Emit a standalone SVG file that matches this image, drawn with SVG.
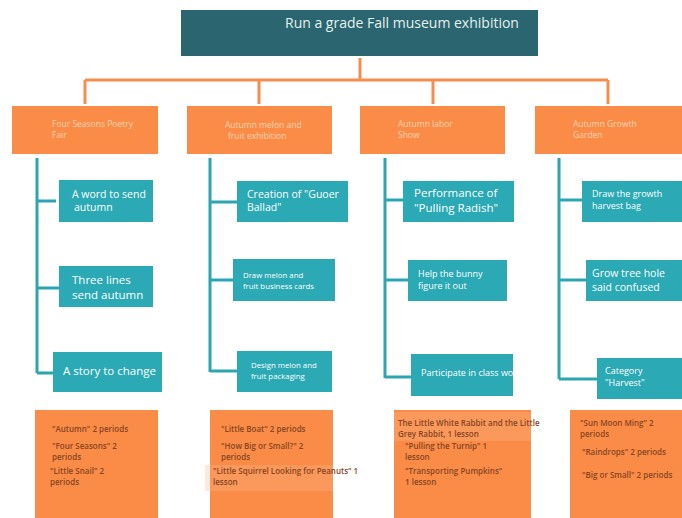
<svg xmlns="http://www.w3.org/2000/svg" width="682" height="518" viewBox="0 0 682 518">
<style>
text{font-family:"Open Sans","Noto Sans","Liberation Sans",sans-serif}
.title{fill:#2b6670}
.tt{fill:#e3f1f1;font-size:14px}
.hd{fill:#fa8c47}
.ht{fill:#fcd3b3;font-size:8.5px}
.tl{fill:#2ba9b4}
.wt{fill:#ffffff}
.ob{fill:#fa8c47}
.bt{fill:#874524;font-size:8px;font-weight:600}
.oc{stroke:#f58d4e;stroke-width:3;fill:none}
.tc{stroke:#2ba5b1;stroke-width:3;fill:none}
</style>
<rect width="682" height="518" fill="#ffffff"/>
<g id="connectors">
<path class="oc" d="M360 58V80M85 80H608M85 80V104M259 80V104M433 80V104M608 80V104"/>
<path class="tc" d="M37 158V373M37 201H56M37 288H60M37 373H54"/>
<path class="tc" d="M210 158V372M210 202H238M210 280H234M210 371H238"/>
<path class="tc" d="M385 158V378M385 200H404M385 280H409M385 377H412"/>
<path class="tc" d="M559 158V379M559 200H583M559 280H587M559 379H598"/>
</g>
<g id="root">
<rect class="title" x="181" y="10" width="357" height="46"/>
<text class="tt" x="285" y="28">Run a grade Fall museum exhibition</text>
</g>
<g id="h1"><rect class="hd" x="12" y="106" width="146" height="48"/><text class="ht" x="52" y="127">Four Seasons Poetry</text><text class="ht" x="52" y="138">Fair</text></g>
<g id="h2"><rect class="hd" x="187" y="106" width="145" height="48"/><text class="ht" x="225" y="128">Autumn melon and</text><text class="ht" x="228" y="139">fruit exhibition</text></g>
<g id="h3"><rect class="hd" x="360" y="106" width="145" height="48"/><text class="ht" x="398" y="127">Autumn labor</text><text class="ht" x="398" y="138">Show</text></g>
<g id="h4"><rect class="hd" x="535" y="106" width="147" height="48"/><text class="ht" x="573" y="127">Autumn Growth</text><text class="ht" x="573" y="138">Garden</text></g>

<g id="c1a"><rect class="tl" x="59" y="180" width="94" height="42"/><text class="wt" x="72" y="198" font-size="10.5">A word to send</text><text class="wt" x="74" y="211" font-size="10.5">autumn</text></g>
<g id="c1b"><rect class="tl" x="59" y="266" width="94" height="41"/><text class="wt" x="72" y="284" font-size="11.5">Three lines</text><text class="wt" x="72" y="299" font-size="11.5">send autumn</text></g>
<g id="c1c"><rect class="tl" x="53" y="352" width="109" height="40"/><text class="wt" x="63" y="375" font-size="11.5">A story to change</text></g>

<g id="c2a"><rect class="tl" x="237" y="181" width="111" height="41"/><text class="wt" x="247" y="198" font-size="10.5">Creation of "Guoer</text><text class="wt" x="247" y="211" font-size="10.5">Ballad"</text></g>
<g id="c2b"><rect class="tl" x="233" y="259" width="102" height="42"/><text class="wt" x="243" y="278" font-size="7.8">Draw melon and</text><text class="wt" x="243" y="289" font-size="7.8">fruit business cards</text></g>
<g id="c2c"><rect class="tl" x="237" y="351" width="95" height="41"/><text class="wt" x="251" y="368" font-size="7.8">Design melon and</text><text class="wt" x="251" y="379" font-size="7.8">fruit packaging</text></g>

<g id="c3a"><rect class="tl" x="403" y="181" width="111" height="41"/><text class="wt" x="414" y="197" font-size="11.5">Performance of</text><text class="wt" x="414" y="212" font-size="11.5">"Pulling Radish"</text></g>
<g id="c3b"><rect class="tl" x="408" y="260" width="99" height="41"/><text class="wt" x="418" y="277" font-size="9">Help the bunny</text><text class="wt" x="418" y="289" font-size="9">figure it out</text></g>
<g id="c3c"><rect class="tl" x="411" y="354" width="102" height="42"/><text class="wt" x="421" y="376" font-size="9">Participate in class work</text></g>

<g id="c4a"><rect class="tl" x="582" y="181" width="100" height="41"/><text class="wt" x="592" y="197" font-size="9">Draw the growth</text><text class="wt" x="592" y="209" font-size="9">harvest bag</text></g>
<g id="c4b"><rect class="tl" x="586" y="260" width="96" height="41"/><text class="wt" x="592" y="277" font-size="10.5">Grow tree hole</text><text class="wt" x="592" y="291" font-size="10.5">said confused</text></g>
<g id="c4c"><rect class="tl" x="597" y="358" width="85" height="41"/><text class="wt" x="605" y="374" font-size="9">Category</text><text class="wt" x="605" y="386" font-size="9">"Harvest"</text></g>

<g id="b1"><rect class="ob" x="35" y="410" width="123" height="108"/>
<text class="bt" x="52" y="432">"Autumn" 2 periods</text>
<text class="bt" x="52" y="449">"Four Seasons" 2</text>
<text class="bt" x="52" y="460">periods</text>
<text class="bt" x="50" y="474">"Little Snail" 2</text>
<text class="bt" x="50" y="485">periods</text></g>
<g id="b2"><rect class="ob" x="210" y="410" width="123" height="108"/>
<rect x="205" y="465" width="128" height="26" fill="#fbb98c" opacity="0.3"/>
<text class="bt" x="221" y="432" font-size="10">"Little Boat" 2 periods</text>
<text class="bt" x="221" y="449">"How Big or Small?" 2</text>
<text class="bt" x="221" y="460">periods</text>
<text class="bt" x="213" y="474">"Little Squirrel Looking for Peanuts" 1</text>
<text class="bt" x="213" y="485">lesson</text></g>
<g id="b3"><rect class="ob" x="394" y="410" width="137" height="108"/>
<rect x="394" y="412" width="137" height="29" fill="#fbb98c" opacity="0.3"/>
<text class="bt" x="398" y="426">The Little White Rabbit and the Little</text>
<text class="bt" x="398" y="437">Grey Rabbit, 1 lesson</text>
<text class="bt" x="405" y="449">"Pulling the Turnip" 1</text>
<text class="bt" x="405" y="460">lesson</text>
<text class="bt" x="405" y="474">"Transporting Pumpkins"</text>
<text class="bt" x="405" y="485"> 1 lesson</text></g>
<g id="b4"><rect class="ob" x="570" y="410" width="112" height="108"/>
<text class="bt" x="580" y="426">"Sun Moon Ming" 2</text>
<text class="bt" x="580" y="437">periods</text>
<text class="bt" x="582" y="455">"Raindrops" 2 periods</text>
<text class="bt" x="582" y="478">"Big or Small" 2 periods</text></g>
</svg>
